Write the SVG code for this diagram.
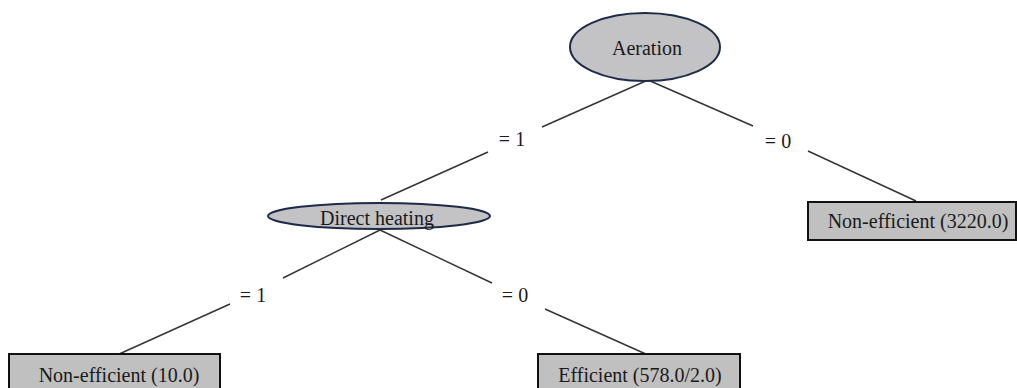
<svg xmlns="http://www.w3.org/2000/svg" width="1017" height="388" viewBox="0 0 1017 388">
<style>
text{font-family:"Liberation Serif","Times New Roman",serif;font-size:20px;fill:#1a1a1a;text-anchor:middle}
.ell{fill:#c3c3c6;stroke:#1e2a48;stroke-width:2}
.box{fill:#c0c0c0;stroke:#111;stroke-width:2}
.edge{stroke:#333;stroke-width:1.4;fill:none}
</style>
<rect width="1017" height="388" fill="#fff"/>
<g id="connectors">
<line class="edge" x1="648" y1="80" x2="542" y2="127"/>
<line class="edge" x1="488" y1="152" x2="381" y2="200"/>
<line class="edge" x1="648" y1="80" x2="753" y2="126"/>
<line class="edge" x1="808" y1="151" x2="916" y2="201"/>
<line class="edge" x1="380" y1="230" x2="283" y2="278"/>
<line class="edge" x1="230" y1="304" x2="117" y2="355"/>
<line class="edge" x1="380" y1="230" x2="492" y2="283"/>
<line class="edge" x1="545" y1="309" x2="648" y2="355"/>
<text x="512" y="146">= 1</text>
<text x="778" y="148">= 0</text>
<text x="253" y="302">= 1</text>
<text x="515" y="302">= 0</text>
</g>
<g id="aeration">
<ellipse class="ell" cx="645" cy="47" rx="75" ry="34"/>
<text x="647" y="55">Aeration</text>
</g>
<g id="direct-heating">
<ellipse class="ell" cx="379" cy="216" rx="111" ry="13"/>
<text x="377" y="225">Direct heating</text>
</g>
<g id="leaf-3220">
<rect class="box" x="808" y="202" width="208" height="38"/>
<text x="918" y="228">Non-efficient (3220.0)</text>
</g>
<g id="leaf-10">
<rect class="box" x="9" y="354" width="211" height="40"/>
<text x="119" y="382">Non-efficient (10.0)</text>
</g>
<g id="leaf-578">
<rect class="box" x="538" y="354" width="202" height="40"/>
<text x="640" y="382">Efficient (578.0/2.0)</text>
</g>
</svg>
